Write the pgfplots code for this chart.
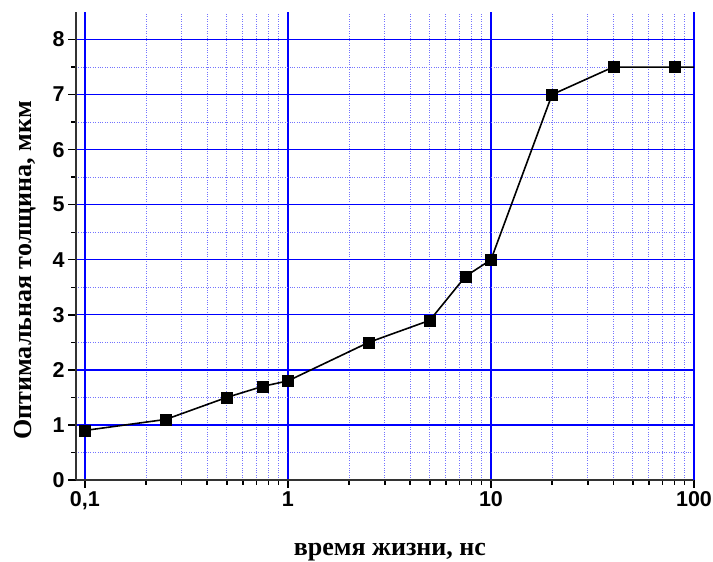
\documentclass[border=0pt]{standalone}
\usepackage{fontspec}
\setmainfont{Liberation Serif}
\setsansfont{Liberation Sans}
\usepackage{pgfplots}
\pgfplotsset{compat=1.18}
\begin{document}
\begin{tikzpicture}
\useasboundingbox (-76pt,-82pt) rectangle (637pt,480pt);
\begin{axis}[
  scale only axis, width=618pt, height=468pt,
  xmode=log, xmin=0.0904, xmax=100, ymin=0, ymax=8.5,
  axis x line=bottom, axis y line=left,
  axis line style={-, black!80, line width=1.6pt},
  xtick={0.1,1,10,100}, xticklabels={0{,}1,1,10,100},
  ytick={0,1,2,3,4,5,6,7,8}, minor ytick={0.5,1.5,...,7.5},
  tick align=outside, major tick length=8pt, minor tick length=5pt,
  every tick/.style={black, line width=1.4pt},
  grid=both,
  major grid style={blue, line width=1.3pt},
  every major x grid/.style={blue, line width=1.8pt},
  minor grid style={blue!55, dotted, line width=1pt},
  /pgf/number format/assume math mode=true,
  tick label style={font=\fontsize{21.5}{24}\sffamily\bfseries},
  xlabel={время жизни, нс}, ylabel={Оптимальная толщина, мкм},
  xlabel style={font=\fontsize{26}{28}\selectfont\bfseries, at={(axis description cs:0.508,-0.162)}, anchor=base},
  ylabel style={font=\fontsize{26}{28}\selectfont\bfseries, at={(axis description cs:-0.082,0.448)}, anchor=center, rotate=0},
  clip=false,
]
\draw[blue, line width=1.8pt] (axis cs:100,0) -- (axis cs:100,8.5);
\addplot[black, line width=1.6pt, no marks] coordinates {
(0.1,0.9) (0.25,1.1) (0.5,1.5) (0.75,1.7) (1,1.8) (2.5,2.5) (5,2.9) (7.5,3.7) (10,4.0) (20,7.0) (40,7.5) (80,7.5) (100,7.5)
};
\addplot[black, only marks, mark=square*, mark size=5.5pt] coordinates {
(0.1,0.9) (0.25,1.1) (0.5,1.5) (0.75,1.7) (1,1.8) (2.5,2.5) (5,2.9) (7.5,3.7) (10,4.0) (20,7.0) (40,7.5) (80,7.5)
};
\end{axis}
\end{tikzpicture}
\end{document}
